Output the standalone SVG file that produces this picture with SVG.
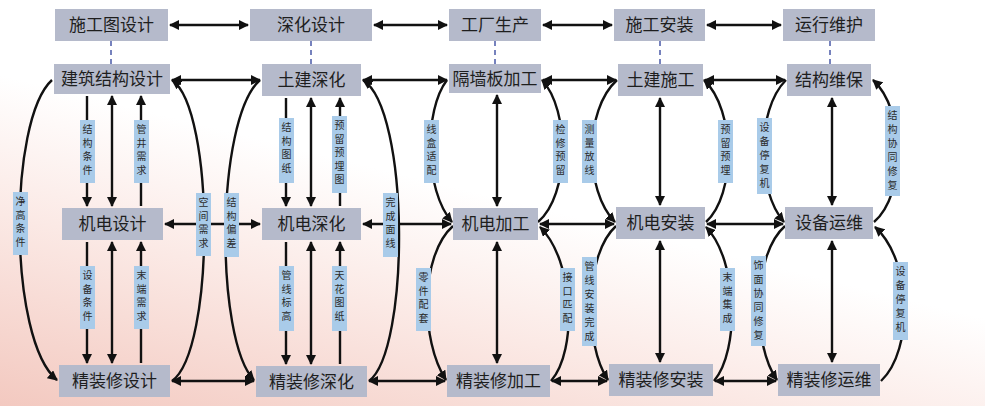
<svg xmlns="http://www.w3.org/2000/svg" width="985" height="406" viewBox="0 0 985 406">
<defs>
<linearGradient id="bg" x1="0" y1="1" x2="0.6" y2="0">
<stop offset="0" stop-color="#f3c9c0"/><stop offset="0.35" stop-color="#fbe9e5"/><stop offset="0.6" stop-color="#ffffff"/>
</linearGradient>
<marker id="a" viewBox="0 0 10 10" refX="9" refY="5" markerWidth="4.2" markerHeight="4.2" orient="auto-start-reverse" markerUnits="strokeWidth"><path d="M0,0 L10,5 L0,10 Z" fill="#111"/></marker>
</defs>
<style>
.n{fill:#b5bacb}
.nt{font-family:"Noto Sans CJK SC",sans-serif;font-size:17px;fill:#1e1e1e;text-anchor:middle}
.l{fill:#a9cbe9}
.lt{font-family:"Noto Sans CJK SC",sans-serif;font-size:10px;fill:#2a2a2a;text-anchor:middle}
.c{fill:none;stroke:#111;stroke-width:2.4}
.d{stroke:#4a5aa8;stroke-width:1.5;stroke-dasharray:5,4}
</style>
<rect width="985" height="406" fill="url(#bg)"/>
<g id="dash">
<line class="d" x1="111" y1="41" x2="111" y2="64"/><line class="d" x1="311" y1="41" x2="311" y2="64"/>
<line class="d" x1="495" y1="41" x2="495" y2="64"/><line class="d" x1="660" y1="41" x2="660" y2="64"/>
<line class="d" x1="830" y1="41" x2="830" y2="64"/>
</g>
<g id="connectors">
<path class="c" d="M170,25 H248" marker-start="url(#a)" marker-end="url(#a)"/>
<path class="c" d="M374,25 H447" marker-start="url(#a)" marker-end="url(#a)"/>
<path class="c" d="M543,25 H612" marker-start="url(#a)" marker-end="url(#a)"/>
<path class="c" d="M707,25 H781" marker-start="url(#a)" marker-end="url(#a)"/>
<path class="c" d="M172,80 H260" marker-start="url(#a)" marker-end="url(#a)"/>
<path class="c" d="M363,80 H447" marker-start="url(#a)" marker-end="url(#a)"/>
<path class="c" d="M543,80 H616" marker-start="url(#a)" marker-end="url(#a)"/>
<path class="c" d="M705,80 H785" marker-start="url(#a)" marker-end="url(#a)"/>
<path class="c" d="M165,224 H260" marker-start="url(#a)" marker-end="url(#a)"/>
<path class="c" d="M363,224 H451" marker-start="url(#a)" marker-end="url(#a)"/>
<path class="c" d="M540,224 H614" marker-start="url(#a)" marker-end="url(#a)"/>
<path class="c" d="M707,224 H783" marker-start="url(#a)" marker-end="url(#a)"/>
<path class="c" d="M172,381 H254" marker-start="url(#a)" marker-end="url(#a)"/>
<path class="c" d="M369,381 H445" marker-start="url(#a)" marker-end="url(#a)"/>
<path class="c" d="M552,381 H607" marker-start="url(#a)" marker-end="url(#a)"/>
<path class="c" d="M715,381 H776" marker-start="url(#a)" marker-end="url(#a)"/>
<path class="c" d="M87,96 V206" marker-end="url(#a)"/>
<path class="c" d="M112,96 V206" marker-start="url(#a)" marker-end="url(#a)"/>
<path class="c" d="M141,206 V96" marker-end="url(#a)"/>
<path class="c" d="M87,242 V363" marker-end="url(#a)"/>
<path class="c" d="M112,242 V363" marker-start="url(#a)" marker-end="url(#a)"/>
<path class="c" d="M141,363 V242" marker-end="url(#a)"/>
<path class="c" d="M286,98 V206" marker-end="url(#a)"/>
<path class="c" d="M311,98 V206" marker-start="url(#a)" marker-end="url(#a)"/>
<path class="c" d="M340,206 V98" marker-end="url(#a)"/>
<path class="c" d="M286,242 V364" marker-end="url(#a)"/>
<path class="c" d="M311,242 V364" marker-start="url(#a)" marker-end="url(#a)"/>
<path class="c" d="M340,364 V242" marker-end="url(#a)"/>
<path class="c" d="M497,95 V206" marker-start="url(#a)" marker-end="url(#a)"/>
<path class="c" d="M497,242 V363" marker-start="url(#a)" marker-end="url(#a)"/>
<path class="c" d="M660,98 V205" marker-start="url(#a)" marker-end="url(#a)"/>
<path class="c" d="M660,241 V362" marker-start="url(#a)" marker-end="url(#a)"/>
<path class="c" d="M832,98 V205" marker-start="url(#a)" marker-end="url(#a)"/>
<path class="c" d="M832,241 V362" marker-start="url(#a)" marker-end="url(#a)"/>
<path class="c" d="M52,80 C8,120 8,340 57,380" marker-end="url(#a)"/>
<path class="c" d="M172,381 C215,350 215,110 172,80" marker-end="url(#a)"/>
<path class="c" d="M260,80 C215,120 215,340 254,380" marker-end="url(#a)"/>
<path class="c" d="M369,381 C410,350 410,110 363,80" marker-end="url(#a)"/>
<path class="c" d="M447,80 C424,110 424,190 452,222" marker-end="url(#a)"/>
<path class="c" d="M538,222 C570,195 570,110 542,80" marker-end="url(#a)"/>
<path class="c" d="M453,226 C420,255 420,340 446,380" marker-end="url(#a)"/>
<path class="c" d="M551,381 C578,350 574,260 540,227" marker-end="url(#a)"/>
<path class="c" d="M617,80 C584,110 584,190 615,222" marker-end="url(#a)"/>
<path class="c" d="M706,222 C736,195 736,110 704,80" marker-end="url(#a)"/>
<path class="c" d="M616,226 C584,255 584,345 608,380" marker-end="url(#a)"/>
<path class="c" d="M714,381 C740,350 738,260 706,227" marker-end="url(#a)"/>
<path class="c" d="M786,80 C756,110 756,190 784,222" marker-end="url(#a)"/>
<path class="c" d="M874,222 C906,195 906,110 873,80" marker-end="url(#a)"/>
<path class="c" d="M785,226 C752,255 752,345 777,380" marker-end="url(#a)"/>
<path class="c" d="M881,381 C914,350 912,260 875,227" marker-end="url(#a)"/>
</g>
<g id="labels">
<g><rect class="l" x="13" y="192" width="15" height="63"/><text class="lt"><tspan x="20.5" y="205">净</tspan><tspan x="20.5" y="218.5">高</tspan><tspan x="20.5" y="232">条</tspan><tspan x="20.5" y="245.5">件</tspan></text></g>
<g><rect class="l" x="80" y="120" width="15" height="63"/><text class="lt"><tspan x="87.5" y="133">结</tspan><tspan x="87.5" y="146.5">构</tspan><tspan x="87.5" y="160">条</tspan><tspan x="87.5" y="173.5">件</tspan></text></g>
<g><rect class="l" x="134" y="120" width="15" height="63"/><text class="lt"><tspan x="141.5" y="133">管</tspan><tspan x="141.5" y="146.5">井</tspan><tspan x="141.5" y="160">需</tspan><tspan x="141.5" y="173.5">求</tspan></text></g>
<g><rect class="l" x="80" y="266" width="15" height="63"/><text class="lt"><tspan x="87.5" y="279">设</tspan><tspan x="87.5" y="292.5">备</tspan><tspan x="87.5" y="306">条</tspan><tspan x="87.5" y="319.5">件</tspan></text></g>
<g><rect class="l" x="134" y="266" width="15" height="63"/><text class="lt"><tspan x="141.5" y="279">末</tspan><tspan x="141.5" y="292.5">端</tspan><tspan x="141.5" y="306">需</tspan><tspan x="141.5" y="319.5">求</tspan></text></g>
<g><rect class="l" x="196" y="193" width="15" height="63"/><text class="lt"><tspan x="203.5" y="206">空</tspan><tspan x="203.5" y="219.5">间</tspan><tspan x="203.5" y="233">需</tspan><tspan x="203.5" y="246.5">求</tspan></text></g>
<g><rect class="l" x="224" y="193" width="15" height="64"/><text class="lt"><tspan x="231.5" y="206">结</tspan><tspan x="231.5" y="219.5">构</tspan><tspan x="231.5" y="233">偏</tspan><tspan x="231.5" y="246.5">差</tspan></text></g>
<g><rect class="l" x="279" y="118" width="15" height="65"/><text class="lt"><tspan x="286.5" y="131">结</tspan><tspan x="286.5" y="144.5">构</tspan><tspan x="286.5" y="158">图</tspan><tspan x="286.5" y="171.5">纸</tspan></text></g>
<g><rect class="l" x="332" y="116" width="15" height="77"/><text class="lt"><tspan x="339.5" y="129">预</tspan><tspan x="339.5" y="142.5">留</tspan><tspan x="339.5" y="156">预</tspan><tspan x="339.5" y="169.5">埋</tspan><tspan x="339.5" y="183">图</tspan></text></g>
<g><rect class="l" x="279" y="266" width="15" height="65"/><text class="lt"><tspan x="286.5" y="279">管</tspan><tspan x="286.5" y="292.5">线</tspan><tspan x="286.5" y="306">标</tspan><tspan x="286.5" y="319.5">高</tspan></text></g>
<g><rect class="l" x="332" y="266" width="15" height="65"/><text class="lt"><tspan x="339.5" y="279">天</tspan><tspan x="339.5" y="292.5">花</tspan><tspan x="339.5" y="306">图</tspan><tspan x="339.5" y="319.5">纸</tspan></text></g>
<g><rect class="l" x="383" y="193" width="15" height="64"/><text class="lt"><tspan x="390.5" y="206">完</tspan><tspan x="390.5" y="219.5">成</tspan><tspan x="390.5" y="233">面</tspan><tspan x="390.5" y="246.5">线</tspan></text></g>
<g><rect class="l" x="424" y="120" width="15" height="63"/><text class="lt"><tspan x="431.5" y="133">线</tspan><tspan x="431.5" y="146.5">盒</tspan><tspan x="431.5" y="160">适</tspan><tspan x="431.5" y="173.5">配</tspan></text></g>
<g><rect class="l" x="553" y="120" width="15" height="63"/><text class="lt"><tspan x="560.5" y="133">检</tspan><tspan x="560.5" y="146.5">修</tspan><tspan x="560.5" y="160">预</tspan><tspan x="560.5" y="173.5">留</tspan></text></g>
<g><rect class="l" x="582" y="120" width="15" height="63"/><text class="lt"><tspan x="589.5" y="133">测</tspan><tspan x="589.5" y="146.5">量</tspan><tspan x="589.5" y="160">放</tspan><tspan x="589.5" y="173.5">线</tspan></text></g>
<g><rect class="l" x="718" y="120" width="15" height="63"/><text class="lt"><tspan x="725.5" y="133">预</tspan><tspan x="725.5" y="146.5">留</tspan><tspan x="725.5" y="160">预</tspan><tspan x="725.5" y="173.5">埋</tspan></text></g>
<g><rect class="l" x="757" y="118" width="15" height="76"/><text class="lt"><tspan x="764.5" y="131">设</tspan><tspan x="764.5" y="145">备</tspan><tspan x="764.5" y="159">停</tspan><tspan x="764.5" y="173">复</tspan><tspan x="764.5" y="187">机</tspan></text></g>
<g><rect class="l" x="885" y="106" width="15" height="90"/><text class="lt"><tspan x="892.5" y="119">结</tspan><tspan x="892.5" y="133">构</tspan><tspan x="892.5" y="147">协</tspan><tspan x="892.5" y="161">同</tspan><tspan x="892.5" y="175">修</tspan><tspan x="892.5" y="189">复</tspan></text></g>
<g><rect class="l" x="416" y="268" width="15" height="63"/><text class="lt"><tspan x="423.5" y="281">零</tspan><tspan x="423.5" y="294.5">件</tspan><tspan x="423.5" y="308">配</tspan><tspan x="423.5" y="321.5">套</tspan></text></g>
<g><rect class="l" x="560" y="268" width="15" height="63"/><text class="lt"><tspan x="567.5" y="281">接</tspan><tspan x="567.5" y="294.5">口</tspan><tspan x="567.5" y="308">匹</tspan><tspan x="567.5" y="321.5">配</tspan></text></g>
<g><rect class="l" x="582" y="257" width="15" height="89"/><text class="lt"><tspan x="589.5" y="270">管</tspan><tspan x="589.5" y="284">线</tspan><tspan x="589.5" y="298">安</tspan><tspan x="589.5" y="312">装</tspan><tspan x="589.5" y="326">完</tspan><tspan x="589.5" y="340">成</tspan></text></g>
<g><rect class="l" x="720" y="268" width="15" height="63"/><text class="lt"><tspan x="727.5" y="281">末</tspan><tspan x="727.5" y="294.5">端</tspan><tspan x="727.5" y="308">集</tspan><tspan x="727.5" y="321.5">成</tspan></text></g>
<g><rect class="l" x="751" y="256" width="15" height="90"/><text class="lt"><tspan x="758.5" y="269">饰</tspan><tspan x="758.5" y="283">面</tspan><tspan x="758.5" y="297">协</tspan><tspan x="758.5" y="311">同</tspan><tspan x="758.5" y="325">修</tspan><tspan x="758.5" y="339">复</tspan></text></g>
<g><rect class="l" x="893" y="262" width="15" height="78"/><text class="lt"><tspan x="900.5" y="275">设</tspan><tspan x="900.5" y="289">备</tspan><tspan x="900.5" y="303">停</tspan><tspan x="900.5" y="317">复</tspan><tspan x="900.5" y="331">机</tspan></text></g>
</g>
<g id="nodes">
<g id="n1"><rect class="n" x="55" y="9" width="113" height="32"/><text class="nt" x="111.5" y="31">施工图设计</text></g>
<g id="n2"><rect class="n" x="250" y="9" width="122" height="32"/><text class="nt" x="311" y="31">深化设计</text></g>
<g id="n3"><rect class="n" x="449" y="9" width="92" height="32"/><text class="nt" x="495" y="31">工厂生产</text></g>
<g id="n4"><rect class="n" x="614" y="9" width="91" height="32"/><text class="nt" x="659.5" y="31">施工安装</text></g>
<g id="n5"><rect class="n" x="783" y="9" width="92" height="32"/><text class="nt" x="829" y="31">运行维护</text></g>
<g id="n6"><rect class="n" x="54" y="64" width="116" height="30"/><text class="nt" x="112" y="85">建筑结构设计</text></g>
<g id="n7"><rect class="n" x="262" y="64" width="99" height="32"/><text class="nt" x="311.5" y="86">土建深化</text></g>
<g id="n8"><rect class="n" x="449" y="64" width="92" height="29"/><text class="nt" x="495" y="84.5">隔墙板加工</text></g>
<g id="n9"><rect class="n" x="618" y="64" width="85" height="32"/><text class="nt" x="660.5" y="86">土建施工</text></g>
<g id="n10"><rect class="n" x="787" y="64" width="84" height="32"/><text class="nt" x="829" y="86">结构维保</text></g>
<g id="n11"><rect class="n" x="62" y="208" width="101" height="32"/><text class="nt" x="112.5" y="230">机电设计</text></g>
<g id="n12"><rect class="n" x="262" y="208" width="99" height="32"/><text class="nt" x="311.5" y="230">机电深化</text></g>
<g id="n13"><rect class="n" x="453" y="208" width="85" height="32"/><text class="nt" x="495.5" y="230">机电加工</text></g>
<g id="n14"><rect class="n" x="616" y="207" width="89" height="32"/><text class="nt" x="660.5" y="229">机电安装</text></g>
<g id="n15"><rect class="n" x="785" y="207" width="88" height="32"/><text class="nt" x="829" y="229">设备运维</text></g>
<g id="n16"><rect class="n" x="59" y="365" width="111" height="32"/><text class="nt" x="114.5" y="387">精装修设计</text></g>
<g id="n17"><rect class="n" x="256" y="366" width="111" height="31"/><text class="nt" x="311.5" y="387.5">精装修深化</text></g>
<g id="n18"><rect class="n" x="447" y="365" width="103" height="32"/><text class="nt" x="498.5" y="387">精装修加工</text></g>
<g id="n19"><rect class="n" x="609" y="364" width="104" height="32"/><text class="nt" x="661" y="386">精装修安装</text></g>
<g id="n20"><rect class="n" x="778" y="364" width="102" height="32"/><text class="nt" x="829" y="386">精装修运维</text></g>
</g>
</svg>
